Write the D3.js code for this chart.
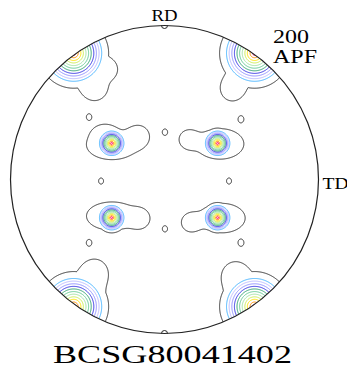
<!DOCTYPE html>
<html><head><meta charset="utf-8">
<script src="https://cdn.jsdelivr.net/npm/d3@7"></script>
<style>html,body{margin:0;padding:0;background:#fff;overflow:hidden}</style>
</head><body>
<svg id="pf" width="347" height="367"></svg>
<script>
// Contour levels (multiples of random density) and line colours, outermost first
const levels = [1, 2, 2.6, 3.4, 4.4, 5.7, 7.4, 9.6, 12.5, 16, 21, 27];
const levelColors = ["#303030", "#40b0ff", "#b8b8ff", "#8c8cff", "#2e2ee0", "#2f9f6f",
                     "#5fc88f", "#a0e0a0", "#c8ec50", "#ffe000", "#ff9000", "#ff0060"];

// Sharp pole maxima on the unit projection: [x, y, peak density, decay width]
const peaks = [
  [-0.590, 0.820, 33, 0.065], [0.585, 0.820, 33, 0.065],
  [-0.590, -0.825, 33, 0.065], [0.585, -0.825, 33, 0.065],
  [-0.343, 0.235, 34, 0.028], [0.345, 0.235, 34, 0.028],
  [-0.343, -0.248, 34, 0.028], [0.345, -0.248, 34, 0.028]
];

// Broad low-density spread around the maxima: [x, y, sigma x, sigma y]
const spreads = [
  // rim maxima and their inward lobes
  [-0.549, 0.776, 0.170, 0.145], [-0.451, 0.588, 0.060, 0.060], [-0.367, 0.711, 0.040, 0.040],
  [0.568, 0.776, 0.165, 0.135], [0.438, 0.581, 0.060, 0.060],
  [-0.549, -0.776, 0.172, 0.152], [-0.451, -0.594, 0.058, 0.058],
  [0.555, -0.795, 0.172, 0.152], [0.458, -0.613, 0.060, 0.060],
  // inner maxima and their side lobes
  [-0.341, 0.224, 0.170, 0.098], [-0.166, 0.288, 0.045, 0.045], [-0.390, 0.300, 0.045, 0.035],
  [0.360, 0.231, 0.160, 0.102], [0.153, 0.263, 0.040, 0.040],
  [-0.341, -0.237, 0.170, 0.094], [-0.159, -0.256, 0.040, 0.040],
  [0.373, -0.250, 0.155, 0.098], [0.166, -0.282, 0.040, 0.040]
];
const spreadDensity = 1.6;

// Isolated weak poles: [x, y]
const dots = [
  [-0.490, 0.406], [0.003, 0.308], [-0.412, -0.010], [0.003, -0.321],
  [-0.490, -0.412], [0.497, 0.393], [0.419, -0.010], [0.497, -0.412]
];
const dotSigma = [0.014, 0.017];

const axisLabels = ["RD", "TD"];
const planeLabel = ["200", "APF"];
const sampleName = "BCSG80041402";

// ---- layout ----
const cx = 164.5, cy = 179.5, R = 154;
const svg = d3.select("#pf");
const xs = d3.scaleLinear().domain([-1, 1]).range([cx - R, cx + R]);
const ys = d3.scaleLinear().domain([-1, 1]).range([cy + R, cy - R]);

// ---- density grid ----
const E = 1.04, n = 640, cell = 2 * E / n;
const values = new Float64Array(n * n);
for (let j = 0; j < n; j++) {
  const y = E - (j + 0.5) * cell;
  for (let i = 0; i < n; i++) {
    const x = -E + (i + 0.5) * cell;
    // diffuse background: overlapping spreads merge, kept below the first coloured level
    let s = 0;
    for (const [sx, sy, gx, gy] of spreads) {
      const u = (x - sx) / gx, t = (y - sy) / gy;
      const q = u * u + t * t;
      if (q < 20) s += spreadDensity * Math.exp(-0.5 * q);
    }
    for (const [dxp, dyp] of dots) {
      const u = (x - dxp) / dotSigma[0], t = (y - dyp) / dotSigma[1];
      const q = u * u + t * t;
      if (q < 20) s += spreadDensity * Math.exp(-0.5 * q);
    }
    let v = Math.min(s, 1.9);
    for (const [px, py, h, w] of peaks) {
      const dx = x - px, dy = y - py;
      const d2 = dx * dx + dy * dy;
      if (d2 < 0.1) v = Math.max(v, h * Math.exp(-Math.sqrt(d2) / w));
    }
    values[j * n + i] = v;
  }
}

const gxs = d3.scaleLinear().domain([0, n]).range([xs(-E), xs(E)]);
const gys = d3.scaleLinear().domain([0, n]).range([ys(E), ys(-E)]);
const proj = d3.geoTransform({ point(x, y) { this.stream.point(gxs(x), gys(y)); } });
const path = d3.geoPath(proj);

svg.append("clipPath").attr("id", "disc")
  .append("circle").attr("cx", xs(0)).attr("cy", ys(0)).attr("r", R);

const contours = d3.contours().size([n, n]).thresholds(levels)(values);
svg.append("g").attr("clip-path", "url(#disc)")
  .selectAll("path").data(contours).join("path")
  .attr("d", path)
  .attr("fill", "none")
  .attr("stroke", (d, i) => levelColors[i])
  .attr("stroke-width", 1);

// ---- projection circle and reference marks ----
svg.append("circle").attr("cx", xs(0)).attr("cy", ys(0)).attr("r", R)
  .attr("fill", "none").attr("stroke", "#222").attr("stroke-width", 1.2);

const mark = 3;
svg.append("path")
  .attr("d", `M${xs(0) - mark},${ys(1)} A${mark},${mark} 0 0 0 ${xs(0) + mark},${ys(1)}`)
  .attr("fill", "none").attr("stroke", "#222").attr("stroke-width", 1);
svg.append("path")
  .attr("d", `M${xs(0) - mark},${ys(-1)} A${mark},${mark} 0 0 1 ${xs(0) + mark},${ys(-1)}`)
  .attr("fill", "none").attr("stroke", "#222").attr("stroke-width", 1);

// ---- labels ----
const serif = "'Liberation Serif','Times New Roman',serif";
svg.append("text").attr("x", xs(0)).attr("y", 21).attr("text-anchor", "middle")
  .attr("font-family", serif).attr("font-size", 16)
  .attr("textLength", 26).attr("lengthAdjust", "spacingAndGlyphs")
  .text(axisLabels[0]);
svg.append("text").attr("x", xs(1) + 4).attr("y", 189)
  .attr("font-family", serif).attr("font-size", 16)
  .attr("textLength", 26).attr("lengthAdjust", "spacingAndGlyphs")
  .text(axisLabels[1]);
svg.append("text").attr("x", 273).attr("y", 43)
  .attr("font-family", serif).attr("font-size", 19)
  .attr("textLength", 36).attr("lengthAdjust", "spacingAndGlyphs")
  .text(planeLabel[0]);
svg.append("text").attr("x", 273).attr("y", 63)
  .attr("font-family", serif).attr("font-size", 19)
  .attr("textLength", 44).attr("lengthAdjust", "spacingAndGlyphs")
  .text(planeLabel[1]);
svg.append("text").attr("x", 53).attr("y", 363)
  .attr("font-family", serif).attr("font-size", 25)
  .attr("textLength", 239).attr("lengthAdjust", "spacingAndGlyphs")
  .text(sampleName);
</script>
</body></html>
